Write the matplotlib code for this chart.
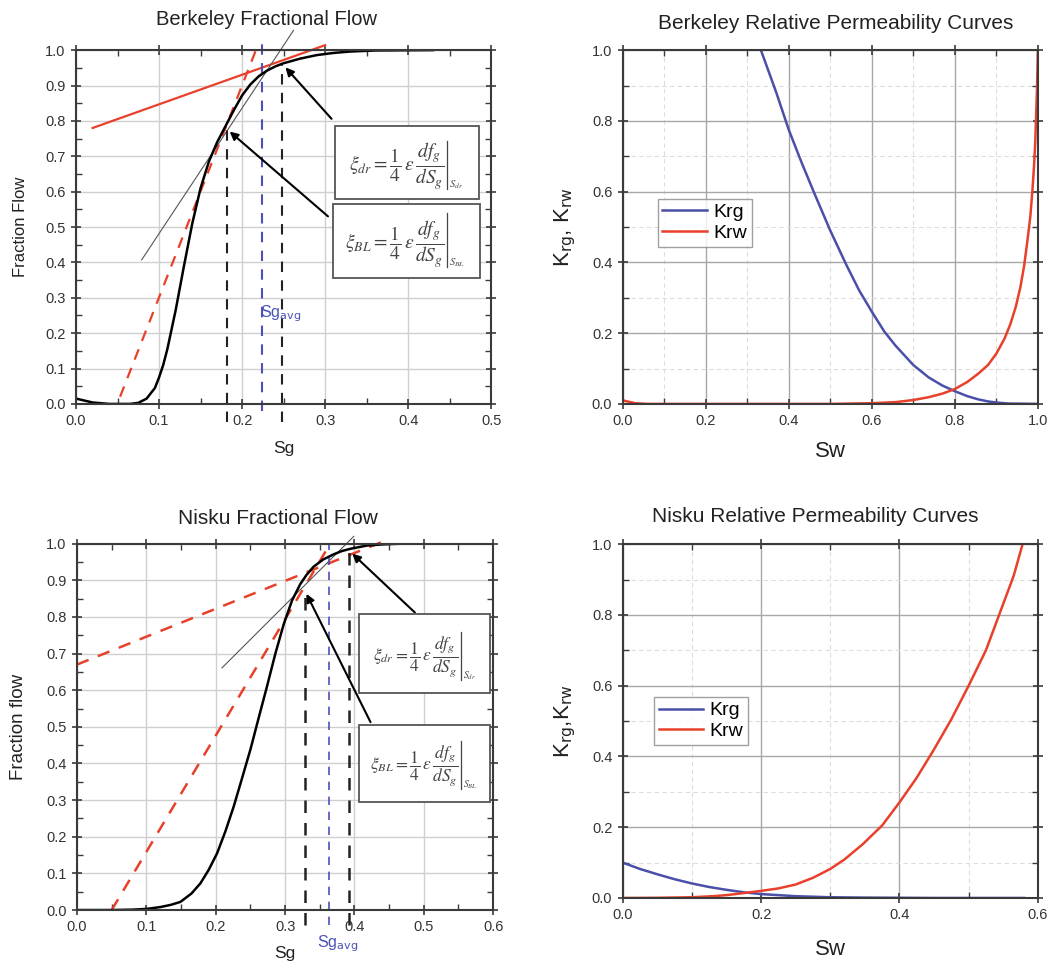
import numpy as np
import matplotlib
matplotlib.use("Agg")
import matplotlib.pyplot as plt
from matplotlib.ticker import MultipleLocator, FormatStrFormatter
from matplotlib.patches import Rectangle

plt.rcParams['font.family'] = ['Liberation Sans', 'DejaVu Sans']

# ---------------- data ----------------
# Berkeley fractional flow
bk_sg = [0.0, 0.02, 0.04, 0.065, 0.075, 0.085, 0.095, 0.10, 0.105, 0.11, 0.12, 0.13, 0.14, 0.15,
         0.16, 0.17, 0.18, 0.19, 0.20, 0.21, 0.22, 0.23, 0.24, 0.25, 0.27, 0.29, 0.31, 0.33, 0.36, 0.43]
bk_fg = [0.015, 0.004, 0.0, 0.0, 0.003, 0.015, 0.045, 0.075, 0.11, 0.155, 0.265, 0.39, 0.51, 0.61,
         0.685, 0.74, 0.785, 0.83, 0.872, 0.903, 0.926, 0.942, 0.954, 0.963, 0.976, 0.986, 0.992,
         0.996, 0.999, 1.0]
bk_red_solid_x = [0.02, 0.30]
bk_red_solid_y = [0.78, 1.014]
bk_red_dash_x = [0.053, 0.22]
bk_red_dash_y = [0.02, 1.02]
bk_tan_x = [0.079, 0.262]
bk_tan_y = [0.407, 1.056]
bk_s_bl, bk_f_bl = 0.1815, 0.78
bk_s_dr, bk_f_dr = 0.248, 0.962
bk_s_avg = 0.2235

# Berkeley relative permeability
bkr_sw_g = [0.333, 0.37, 0.40, 0.43, 0.46, 0.50, 0.54, 0.57, 0.60, 0.63, 0.657, 0.70, 0.737,
            0.77, 0.80, 0.83, 0.856, 0.88, 0.90, 0.93, 1.0]
bkr_krg = [1.0, 0.88, 0.775, 0.685, 0.60, 0.49, 0.39, 0.32, 0.261, 0.205, 0.165, 0.11, 0.075,
           0.052, 0.036, 0.022, 0.013, 0.007, 0.004, 0.001, 0.0]
bkr_sw_w = [0.0, 0.03, 0.06, 0.5, 0.6, 0.657, 0.70, 0.737, 0.77, 0.80, 0.83, 0.856, 0.88, 0.90,
            0.92, 0.934, 0.947, 0.958, 0.967, 0.975, 0.982, 0.987, 0.991, 0.994, 0.996, 0.998,
            0.999, 1.0]
bkr_krw = [0.01, 0.002, 0.0, 0.0, 0.002, 0.005, 0.011, 0.019, 0.029, 0.042, 0.062, 0.085, 0.11,
           0.142, 0.185, 0.226, 0.275, 0.33, 0.39, 0.462, 0.53, 0.604, 0.675, 0.745, 0.82, 0.887,
           0.94, 1.0]

# Nisku fractional flow
nk_sg = [0.0, 0.05, 0.08, 0.10, 0.12, 0.135, 0.149, 0.165, 0.178, 0.19, 0.202, 0.214, 0.226,
         0.238, 0.25, 0.262, 0.274, 0.286, 0.298, 0.31, 0.322, 0.331, 0.341, 0.355, 0.37, 0.382,
         0.394, 0.418, 0.44, 0.466]
nk_fg = [0.0, 0.0, 0.001, 0.003, 0.008, 0.014, 0.022, 0.045, 0.073, 0.11, 0.155, 0.215, 0.283,
         0.36, 0.438, 0.525, 0.611, 0.70, 0.78, 0.845, 0.89, 0.915, 0.937, 0.957, 0.971, 0.98,
         0.986, 0.995, 0.998, 1.0]
nk_red1_x = [0.0, 0.44]
nk_red1_y = [0.67, 1.005]
nk_red2_x = [0.05, 0.365]
nk_red2_y = [0.0, 1.0]
nk_tan_x = [0.209, 0.399]
nk_tan_y = [0.661, 1.02]
nk_s_bl, nk_f_bl = 0.328, 0.88
nk_s_dr, nk_f_dr = 0.392, 0.983
nk_s_avg = 0.364

# Nisku relative permeability
nkr_sw_g = [0.0, 0.025, 0.05, 0.075, 0.10, 0.125, 0.15, 0.175, 0.20, 0.25, 0.30, 0.35, 0.45, 0.58]
nkr_krg = [0.10, 0.082, 0.067, 0.053, 0.041, 0.031, 0.023, 0.016, 0.011, 0.005, 0.002, 0.001,
           0.0, 0.0]
nkr_sw_w = [0.0, 0.05, 0.10, 0.13, 0.15, 0.18, 0.20, 0.225, 0.25, 0.275, 0.30, 0.32, 0.347,
            0.375, 0.40, 0.425, 0.45, 0.475, 0.50, 0.525, 0.545, 0.565, 0.578]
nkr_krw = [0.0, 0.0005, 0.002, 0.005, 0.008, 0.015, 0.02, 0.027, 0.038, 0.057, 0.082, 0.108,
           0.152, 0.205, 0.27, 0.34, 0.42, 0.505, 0.60, 0.70, 0.805, 0.91, 1.0]

SPINE = '#3a3a3a'
RED = '#e8402a'
BLUE = '#4a4fa8'
BLUE_D = '#4a52b8'
EQ_COL = '#444444'


def style(ax, xmaj, xmin, ymaj, ymin, xlim, ylim, grid_col, minor_grid=False):
    ax.set_xlim(*xlim)
    ax.set_ylim(*ylim)
    ax.xaxis.set_major_locator(MultipleLocator(xmaj))
    ax.xaxis.set_minor_locator(MultipleLocator(xmin))
    ax.yaxis.set_major_locator(MultipleLocator(ymaj))
    ax.yaxis.set_minor_locator(MultipleLocator(ymin))
    ax.xaxis.set_major_formatter(FormatStrFormatter('%.1f'))
    ax.yaxis.set_major_formatter(FormatStrFormatter('%.1f'))
    ax.grid(True, which='major', color=grid_col, lw=1.0)
    if minor_grid:
        ax.grid(True, which='minor', color='#dddddd', lw=0.8, ls=(0, (4, 3)))
    for s in ax.spines.values():
        s.set_color(SPINE)
        s.set_linewidth(1.5)
    ax.tick_params(which='major', direction='inout', length=7, width=1.2, color=SPINE,
                   top=True, right=True, labelsize=10.5, labelcolor='#333333', pad=4)
    ax.tick_params(which='minor', direction='in', length=4, width=1.0, color=SPINE,
                   top=True, right=True)
    ax.set_axisbelow(True)


def px_to_data(ax, x, y, dx, dy):
    p = ax.transData.transform((x, y))
    return ax.transData.inverted().transform((p[0] + dx, p[1] + dy))


def eq_box(ax, x0, y0, w, h, sub, fs, bar_dx, bar_top, bar_bot):
    ax.add_patch(Rectangle((x0, y0), w, h, fill=True, fc='white', ec='#555555', lw=1.3, zorder=5))
    cx, cy = x0 + w / 2, y0 + h / 2
    ex, ey = px_to_data(ax, cx, cy, bar_dx - 2, -3)
    ax.text(ex, ey, r'$\xi_{%s}=\dfrac{1}{4}\,\varepsilon\,\dfrac{df_g}{dS_g}$' % sub,
            fontsize=fs, ha='right', va='center', math_fontfamily='stix', color=EQ_COL, zorder=6)
    b1 = px_to_data(ax, cx, cy, bar_dx, bar_top)
    b2 = px_to_data(ax, cx, cy, bar_dx, -bar_bot)
    ax.plot([b1[0], b2[0]], [b1[1], b2[1]], color=EQ_COL, lw=0.9, zorder=6)
    sx, sy = px_to_data(ax, cx, cy, bar_dx + 2, -bar_bot + 4)
    ax.text(sx, sy, r'$S_{%s}$' % sub, fontsize=fs * 0.55, ha='left', va='center',
            math_fontfamily='stix', color=EQ_COL, zorder=6)


fig = plt.figure(figsize=(10.59, 9.64), dpi=100)

# ---------- Top-left: Berkeley fractional flow ----------
ax1 = fig.add_axes([0.0718, 0.581, 0.392, 0.367])
style(ax1, 0.1, 0.05, 0.1, 0.05, (0, 0.5), (0, 1.0), '#cfcfcf')
ax1.plot(bk_red_solid_x, bk_red_solid_y, color=RED, lw=1.6, clip_on=False)
ax1.plot(bk_red_dash_x, bk_red_dash_y, color=RED, lw=1.6, ls=(0, (5, 4)), clip_on=False)
ax1.plot(bk_tan_x, bk_tan_y, color='#555555', lw=0.8, clip_on=False)
ax1.plot([bk_s_bl, bk_s_bl], [-0.05, bk_f_bl], color='#222222', lw=1.5, ls=(0, (5, 4)), clip_on=False)
ax1.plot([bk_s_dr, bk_s_dr], [-0.05, bk_f_dr], color='#222222', lw=1.5, ls=(0, (5, 4)), clip_on=False)
ax1.plot([bk_s_avg, bk_s_avg], [-0.02, 1.02], color=BLUE_D, lw=1.5, ls=(0, (5, 4)), clip_on=False)
ax1.plot(bk_sg, bk_fg, color='black', lw=1.8)
ax1.text(bk_s_avg - 0.002, 0.255, r'Sg$_{\rm avg}$', color=BLUE_D, fontsize=11.5, ha='left', va='center')
ax1.annotate('', xy=(bk_s_dr + 0.002, bk_f_dr - 0.005), xytext=(0.31, 0.80),
             arrowprops=dict(arrowstyle='-|>', color='black', lw=1.5, mutation_scale=12))
ax1.annotate('', xy=(bk_s_bl + 0.001, bk_f_bl - 0.005), xytext=(0.306, 0.525),
             arrowprops=dict(arrowstyle='-|>', color='black', lw=1.5, mutation_scale=12))
eq_box(ax1, 0.312, 0.578, 0.173, 0.207, 'dr', 14, 40, 22, 26)
eq_box(ax1, 0.310, 0.355, 0.177, 0.210, 'BL', 14, 40, 28, 26)
ax1.set_title('Berkeley Fractional Flow', fontsize=14.5, pad=18, color='#222222', x=0.46)
ax1.set_xlabel('Sg', fontsize=12.5, color='#222222', labelpad=9)
ax1.set_ylabel('Fraction Flow', fontsize=12, color='#222222', labelpad=12)

# ---------- Top-right: Berkeley rel perm ----------
ax2 = fig.add_axes([0.588, 0.581, 0.392, 0.367])
style(ax2, 0.2, 0.1, 0.2, 0.1, (0, 1.0), (0, 1.0), '#a8a8a8', minor_grid=True)
ax2.plot(bkr_sw_g, bkr_krg, color=BLUE, lw=1.8, label='Krg')
ax2.plot(bkr_sw_w, bkr_krw, color=RED, lw=1.8, label='Krw')
ax2.legend(loc='upper left', bbox_to_anchor=(0.084, 0.58), fontsize=14, frameon=True,
           fancybox=False, edgecolor='#888888', handlelength=2.3, handletextpad=0.3,
           borderpad=0.25, labelspacing=0.15, borderaxespad=0)
ax2.set_title('Berkeley Relative Permeability Curves', fontsize=15, pad=15, color='#222222', x=0.513)
ax2.set_xlabel('Sw', fontsize=16, color='#222222', labelpad=9)
ax2.set_ylabel(r'K$_{\rm rg}$, K$_{\rm rw}$', fontsize=16, color='#222222', labelpad=10)

# ---------- Bottom-left: Nisku fractional flow ----------
ax3 = fig.add_axes([0.0727, 0.056, 0.393, 0.380])
style(ax3, 0.1, 0.05, 0.1, 0.05, (0, 0.6), (0, 1.0), '#cfcfcf')
ax3.plot(nk_red1_x, nk_red1_y, color=RED, lw=1.8, ls=(0, (5, 4)), clip_on=False)
ax3.plot(nk_red2_x, nk_red2_y, color=RED, lw=1.8, ls=(0, (5, 4)), clip_on=False)
ax3.plot(nk_tan_x, nk_tan_y, color='#555555', lw=0.8, clip_on=False)
ax3.plot([nk_s_bl, nk_s_bl], [-0.04, nk_f_bl], color='#222222', lw=1.8, ls=(0, (5, 4)), clip_on=False)
ax3.plot([nk_s_dr, nk_s_dr], [-0.04, nk_f_dr], color='#222222', lw=1.8, ls=(0, (5, 4)), clip_on=False)
ax3.plot([nk_s_avg, nk_s_avg], [-0.04, 1.0], color=BLUE_D, lw=1.2, ls=(0, (5, 4)), clip_on=False)
ax3.plot(nk_sg, nk_fg, color='black', lw=1.8)
ax3.text(nk_s_avg - 0.018, -0.092, r'Sg$_{\rm avg}$', color=BLUE_D, fontsize=11.5, ha='left', va='center')
ax3.annotate('', xy=(nk_s_dr + 0.002, nk_f_dr - 0.005), xytext=(0.49, 0.807),
             arrowprops=dict(arrowstyle='-|>', color='black', lw=1.5, mutation_scale=12))
ax3.annotate('', xy=(nk_s_bl + 0.001, nk_f_bl - 0.01), xytext=(0.425, 0.506),
             arrowprops=dict(arrowstyle='-|>', color='black', lw=1.5, mutation_scale=12))
eq_box(ax3, 0.406, 0.593, 0.190, 0.214, 'dr', 12.5, 36, 22, 26)
eq_box(ax3, 0.406, 0.296, 0.190, 0.210, 'BL', 12.5, 36, 22, 26)
ax3.set_title('Nisku Fractional Flow', fontsize=15, pad=14, color='#222222', x=0.482)
ax3.set_xlabel('Sg', fontsize=12.5, color='#222222', labelpad=8)
ax3.set_ylabel('Fraction flow', fontsize=13.5, color='#222222', labelpad=14)

# ---------- Bottom-right: Nisku rel perm ----------
ax4 = fig.add_axes([0.588, 0.0685, 0.392, 0.367])
style(ax4, 0.2, 0.1, 0.2, 0.1, (0, 0.6), (0, 1.0), '#a8a8a8', minor_grid=True)
ax4.plot(nkr_sw_g, nkr_krg, color=BLUE, lw=1.8, label='Krg')
ax4.plot(nkr_sw_w, nkr_krw, color=RED, lw=1.8, label='Krw')
ax4.legend(loc='upper left', bbox_to_anchor=(0.075, 0.568), fontsize=14, frameon=True,
           fancybox=False, edgecolor='#888888', handlelength=2.3, handletextpad=0.3,
           borderpad=0.25, labelspacing=0.15, borderaxespad=0)
ax4.set_title('Nisku Relative Permeability Curves', fontsize=15, pad=16, color='#222222', x=0.465)
ax4.set_xlabel('Sw', fontsize=16, color='#222222', labelpad=12)
ax4.set_ylabel(r'K$_{\rm rg}$,K$_{\rm rw}$', fontsize=16, color='#222222', labelpad=10)

fig.savefig('out.png', dpi=100)
